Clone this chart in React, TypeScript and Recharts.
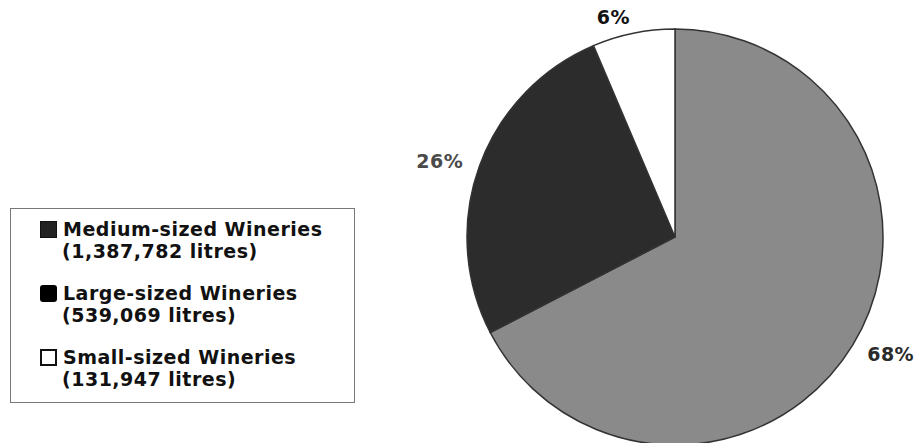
import React from 'react';
import { PieChart, Pie, Cell, Legend } from 'recharts';

// Wine production by winery size
const categories = ['Medium-sized Wineries', 'Large-sized Wineries', 'Small-sized Wineries'];
const litres = [1387782, 539069, 131947];
const percentLabels = ['68%', '26%', '6%'];
const sliceColors = ['#8a8a8a', '#2c2c2c', '#ffffff'];
const labelColors = ['#2a2a2a', '#4a4a4a', '#111111'];

const data = categories.map((name, i) => ({
  name,
  value: litres[i],
  pct: percentLabels[i],
}));

const FONT = '"DejaVu Sans", Verdana, sans-serif';
const RAD = Math.PI / 180;

const renderLabel = (props: any) => {
  const { cx, cy, midAngle, outerRadius, index } = props;
  const r = outerRadius + 17;
  const x = cx + r * Math.cos(-midAngle * RAD);
  const y = cy + r * Math.sin(-midAngle * RAD);
  return (
    <text
      x={x}
      y={y}
      textAnchor={x > cx ? 'start' : 'end'}
      dominantBaseline="central"
      fontFamily={FONT}
      fontWeight="bold"
      fontSize={19}
      letterSpacing={0.5}
      fill={labelColors[index]}
    >
      {percentLabels[index]}
    </text>
  );
};

const Marker = ({ index }: { index: number }) => {
  const base: React.CSSProperties = {
    display: 'inline-block',
    width: 17,
    height: 17,
    boxSizing: 'border-box',
    marginRight: 6,
    verticalAlign: '-2px',
  };
  if (index === 0) return <span style={{ ...base, background: '#222', border: '1px solid #111' }} />;
  if (index === 1) return <span style={{ ...base, background: '#000', borderRadius: 3 }} />;
  return <span style={{ ...base, background: '#fff', border: '2px solid #111' }} />;
};

const renderLegend = () => (
  <div
    style={{
      width: 345,
      height: 195,
      boxSizing: 'border-box',
      border: '1px solid #777',
      padding: '9px 0 0 29px',
      fontFamily: FONT,
      fontWeight: 'bold',
      fontSize: 19,
      letterSpacing: 0.5,
      color: '#111',
      textAlign: 'left',
    }}
  >
    {data.map((d, i) => (
      <div key={d.name} style={{ marginBottom: 20, lineHeight: '22px' }}>
        <div style={{ whiteSpace: 'nowrap' }}>
          <Marker index={i} />
          {d.name}
        </div>
        <div style={{ paddingLeft: 22, whiteSpace: 'nowrap' }}>({d.value.toLocaleString('en-US')} litres)</div>
      </div>
    ))}
  </div>
);

export default function App() {
  return (
    <div style={{ position: 'absolute', left: 0, top: 0, width: 914, height: 443, background: '#fff' }}>
      <PieChart width={914} height={443} margin={{ top: 0, right: 0, bottom: 0, left: 0 }}>
        <Pie
          data={data}
          dataKey="value"
          nameKey="name"
          cx={675}
          cy={237}
          outerRadius={208}
          startAngle={90}
          endAngle={-270}
          stroke="#333"
          strokeWidth={1.5}
          label={renderLabel}
          labelLine={false}
          isAnimationActive={false}
        >
          {data.map((d, i) => (
            <Cell key={d.name} fill={sliceColors[i]} />
          ))}
        </Pie>
        <Legend
          content={renderLegend}
          wrapperStyle={{ position: 'absolute', left: 10, top: 208, width: 345, height: 195 }}
        />
      </PieChart>
    </div>
  );
}
